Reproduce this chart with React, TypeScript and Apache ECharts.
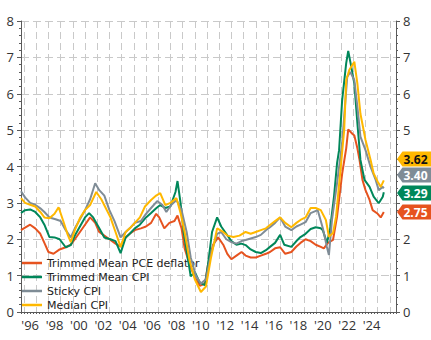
import React, { useEffect, useRef } from 'react';
import * as echarts from 'echarts';

// [decimal year, % y/y]
const trimmedMeanPCE: [number, number][] = [
  [1995.75, 2.25], [1996.1, 2.32], [1996.5, 2.4], [1996.9, 2.3], [1997.3, 2.15], [1997.7, 1.9],
  [1998.0, 1.65], [1998.4, 1.6], [1998.9, 1.72], [1999.4, 1.78], [1999.8, 1.85], [2000.2, 2.0],
  [2000.6, 2.2], [2001.0, 2.4], [2001.4, 2.6], [2001.8, 2.45], [2002.2, 2.2], [2002.6, 2.1],
  [2003.0, 2.0], [2003.5, 1.88], [2003.9, 1.8], [2004.3, 2.05], [2004.7, 2.15], [2005.1, 2.25],
  [2005.6, 2.3], [2006.0, 2.35], [2006.4, 2.45], [2006.8, 2.7], [2007.1, 2.6], [2007.5, 2.3],
  [2007.9, 2.45], [2008.3, 2.5], [2008.6, 2.65], [2008.9, 2.3], [2009.2, 1.75], [2009.6, 1.3],
  [2010.0, 0.95], [2010.4, 0.72], [2010.8, 0.78], [2011.1, 1.3], [2011.5, 1.85], [2011.9, 2.05],
  [2012.3, 1.85], [2012.7, 1.6], [2013.0, 1.45], [2013.4, 1.55], [2013.8, 1.65], [2014.2, 1.55],
  [2014.6, 1.5], [2015.0, 1.5], [2015.4, 1.55], [2015.8, 1.6], [2016.2, 1.65], [2016.6, 1.75],
  [2017.0, 1.78], [2017.4, 1.6], [2017.9, 1.65], [2018.3, 1.8], [2018.7, 1.9], [2019.1, 2.0],
  [2019.5, 1.95], [2019.9, 1.85], [2020.3, 1.79], [2020.6, 1.75], [2020.9, 1.9], [2021.3, 1.98],
  [2021.7, 2.62], [2022.1, 3.8], [2022.4, 4.5], [2022.6, 5.02], [2022.9, 4.9], [2023.1, 4.85],
  [2023.3, 4.5], [2023.5, 4.2], [2023.75, 3.63], [2024.0, 3.35], [2024.3, 3.08], [2024.6, 2.8],
  [2025.0, 2.7], [2025.25, 2.6], [2025.5, 2.75],
];

const trimmedMeanCPI: [number, number][] = [
  [1995.75, 2.72], [1996.1, 2.8], [1996.5, 2.82], [1996.9, 2.75], [1997.3, 2.6], [1997.7, 2.4],
  [1998.1, 2.06], [1998.5, 2.05], [1998.9, 2.0], [1999.4, 1.78], [1999.8, 1.84], [2000.2, 2.1],
  [2000.6, 2.35], [2001.0, 2.6], [2001.3, 2.72], [2001.7, 2.6], [2002.2, 2.3], [2002.6, 2.05],
  [2003.1, 2.0], [2003.5, 1.95], [2003.9, 1.62], [2004.3, 2.05], [2004.7, 2.15], [2005.1, 2.3],
  [2005.5, 2.4], [2006.0, 2.6], [2006.4, 2.72], [2006.8, 2.85], [2007.2, 2.94], [2007.6, 2.86],
  [2008.0, 2.9], [2008.4, 3.3], [2008.6, 3.6], [2008.8, 3.0], [2009.1, 2.2], [2009.4, 1.5],
  [2009.7, 0.98], [2010.0, 1.1], [2010.4, 0.8], [2010.8, 0.74], [2011.1, 1.3], [2011.4, 2.2],
  [2011.8, 2.6], [2012.2, 2.35], [2012.6, 2.15], [2013.0, 1.95], [2013.4, 1.85], [2013.8, 1.88],
  [2014.2, 1.84], [2014.6, 1.72], [2015.0, 1.65], [2015.4, 1.62], [2015.8, 1.7], [2016.2, 1.79],
  [2016.6, 1.9], [2017.0, 2.12], [2017.3, 1.85], [2017.9, 1.79], [2018.3, 1.95], [2018.7, 2.06],
  [2019.1, 2.15], [2019.5, 2.28], [2019.9, 2.33], [2020.3, 2.3], [2020.5, 2.25], [2020.85, 1.9],
  [2021.1, 2.25], [2021.4, 3.17], [2021.7, 4.09], [2021.85, 4.45], [2022.1, 5.82], [2022.4, 6.84],
  [2022.6, 7.18], [2022.87, 6.74], [2023.06, 6.28], [2023.34, 5.19], [2023.61, 4.18], [2023.88, 3.63],
  [2024.3, 3.44], [2024.7, 3.17], [2025.1, 2.99], [2025.4, 3.17], [2025.5, 3.29],
];

const stickyCPI: [number, number][] = [
  [1995.75, 3.32], [1996.1, 3.15], [1996.5, 3.0], [1996.9, 2.95], [1997.3, 2.85], [1997.7, 2.75],
  [1998.1, 2.6], [1998.6, 2.55], [1999.0, 2.5], [1999.4, 2.25], [1999.8, 2.05], [2000.2, 2.3],
  [2000.6, 2.55], [2001.0, 2.8], [2001.4, 3.1], [2001.8, 3.54], [2002.2, 3.35], [2002.6, 3.2],
  [2003.0, 2.8], [2003.4, 2.5], [2003.9, 2.05], [2004.3, 2.2], [2004.7, 2.3], [2005.1, 2.45],
  [2005.6, 2.5], [2006.0, 2.7], [2006.4, 2.86], [2006.9, 3.05], [2007.3, 2.95], [2007.7, 2.75],
  [2008.1, 2.95], [2008.5, 3.08], [2008.9, 2.8], [2009.3, 2.2], [2009.7, 1.5], [2010.1, 1.0],
  [2010.5, 0.78], [2010.9, 0.9], [2011.3, 1.6], [2011.8, 2.15], [2012.2, 2.2], [2012.6, 2.0],
  [2013.0, 1.92], [2013.4, 1.88], [2013.8, 1.95], [2014.2, 1.98], [2014.6, 2.02], [2015.0, 2.06],
  [2015.4, 2.12], [2015.8, 2.25], [2016.2, 2.33], [2016.6, 2.45], [2017.0, 2.6], [2017.4, 2.35],
  [2017.9, 2.25], [2018.3, 2.35], [2018.7, 2.4], [2019.1, 2.47], [2019.5, 2.72], [2020.05, 2.8],
  [2020.46, 2.3], [2020.87, 1.79], [2021.0, 1.57], [2021.28, 2.53], [2021.69, 3.54], [2022.1, 4.64],
  [2022.52, 6.46], [2022.79, 6.6], [2023.06, 6.37], [2023.34, 5.64], [2023.61, 4.82], [2024.02, 4.45],
  [2024.43, 3.99], [2024.84, 3.63], [2025.11, 3.35], [2025.39, 3.44], [2025.5, 3.4],
];

const medianCPI: [number, number][] = [
  [1995.75, 3.13], [1996.1, 3.0], [1996.5, 2.95], [1996.9, 2.9], [1997.3, 2.75], [1997.7, 2.6],
  [1998.1, 2.58], [1998.5, 2.7], [1998.85, 2.88], [1999.2, 2.55], [1999.6, 2.12], [1999.8, 1.92],
  [2000.2, 2.25], [2000.6, 2.58], [2001.0, 2.8], [2001.4, 2.94], [2001.9, 3.3], [2002.3, 3.1],
  [2002.7, 2.88], [2003.1, 2.6], [2003.5, 2.2], [2003.9, 1.79], [2004.3, 2.2], [2004.7, 2.3],
  [2005.1, 2.45], [2005.5, 2.6], [2005.9, 2.9], [2006.4, 3.08], [2006.8, 3.2], [2007.2, 3.27],
  [2007.6, 2.94], [2008.0, 3.0], [2008.5, 3.13], [2008.8, 2.72], [2009.2, 2.2], [2009.6, 1.4],
  [2010.0, 0.9], [2010.5, 0.55], [2010.9, 0.7], [2011.3, 1.5], [2011.8, 2.3], [2012.3, 2.2],
  [2012.7, 2.1], [2013.2, 2.06], [2013.7, 2.1], [2014.2, 2.2], [2014.6, 2.15], [2015.0, 2.2],
  [2015.4, 2.25], [2015.8, 2.3], [2016.2, 2.39], [2016.6, 2.5], [2017.0, 2.6], [2017.4, 2.45],
  [2017.9, 2.33], [2018.3, 2.45], [2018.7, 2.53], [2019.1, 2.6], [2019.5, 2.86], [2019.9, 2.86],
  [2020.3, 2.8], [2020.73, 2.53], [2021.0, 2.07], [2021.3, 2.17], [2021.55, 2.62], [2021.97, 4.09],
  [2022.24, 5.0], [2022.38, 6.37], [2022.65, 6.65], [2023.06, 6.88], [2023.34, 6.28], [2023.61, 5.45],
  [2024.02, 4.73], [2024.43, 4.18], [2024.7, 3.81], [2024.98, 3.58], [2025.25, 3.44], [2025.5, 3.62],
];

const seriesNames = ['Trimmed Mean PCE deflator', 'Trimmed Mean CPI', 'Sticky CPI', 'Median CPI'];
const seriesColors = ['#E6531F', '#00875A', '#7F8C96', '#FFB800'];
const tagTextColors = ['#ffffff', '#ffffff', '#ffffff', '#111111'];
const yTicks = [0, 1, 2, 3, 4, 5, 6, 7, 8];
const rightHiddenTicks = [3, 4]; // covered by the value tags
const lastLabelYear = 2024;

// monthly category axis: Oct 1995 .. Jul 2026
const axisStart = 1995.75;
const monthCount = 370;
const months: string[] = [];
for (let i = 0; i < monthCount; i++) {
  const m = 9 + i;
  const y = 1995 + Math.floor(m / 12);
  const mm = (m % 12) + 1;
  months.push(`${y}-${String(mm).padStart(2, '0')}`);
}
const toIdx = (y: number) => Math.round((y - axisStart) * 12);

export default function App() {
  const ref = useRef<HTMLDivElement>(null);
  useEffect(() => {
    if (!ref.current) return;
    const chart = echarts.init(ref.current, undefined, { renderer: 'svg' });
    const all = [trimmedMeanPCE, trimmedMeanCPI, stickyCPI, medianCPI];
    const font = '"Open Sans", "DejaVu Sans", sans-serif';
    const legendFont = '"DejaVu Sans", sans-serif';
    const gridColor = '#c9c9c9';
    const axisColor = '#5a5a5a';

    // tag vertical centres (dodged layout, pixels)
    const tagCenters = [212, 193, 175, 159];
    const tags: any[] = [];
    all.forEach((s, i) => {
      const c = tagCenters[i];
      const last = s[s.length - 1][1];
      tags.push({
        type: 'polygon',
        z: 100,
        shape: { points: [[397, c], [402.5, c - 7.5], [431, c - 7.5], [431, c + 7.5], [402.5, c + 7.5]] },
        style: { fill: seriesColors[i] },
      });
      tags.push({
        type: 'text',
        z: 101,
        x: 415.5,
        y: c + 0.5,
        style: {
          text: last.toFixed(2),
          fill: tagTextColors[i],
          font: `bold 12px ${font}`,
          align: 'center',
          verticalAlign: 'middle',
        },
      });
    });

    const yAxisBase = (pos: 'left' | 'right', showSplit: boolean) => ({
      type: 'value',
      position: pos,
      min: yTicks[0],
      max: yTicks[yTicks.length - 1],
      interval: 1,
      axisLine: { show: true, lineStyle: { color: axisColor, width: 1 } },
      axisTick: { show: true, length: 4, lineStyle: { color: axisColor } },
      minorTick: { show: true, splitNumber: 5, length: 2, lineStyle: { color: axisColor } },
      axisLabel: {
        color: '#333',
        fontSize: 13,
        fontFamily: font,
        margin: 7,
        formatter: (v: number) => (pos === 'right' && rightHiddenTicks.includes(v) ? '' : String(v)),
      },
      splitLine: { show: showSplit, lineStyle: { color: gridColor, type: [8, 4], width: 1 } },
    });

    chart.setOption({
      animation: false,
      grid: { left: 21, right: 35, top: 21, bottom: 28, containLabel: false },
      legend: {
        left: 22,
        top: 256,
        padding: 0,
        orient: 'vertical',
        icon: 'rect',
        itemWidth: 20,
        itemHeight: 2.5,
        itemGap: 0,
        textStyle: { fontFamily: legendFont, fontSize: 11, color: '#222', lineHeight: 14, height: 14 },
        data: seriesNames,
      },
      xAxis: {
        type: 'category',
        data: months,
        boundaryGap: false,
        axisLine: { show: true, lineStyle: { color: axisColor } },
        axisTick: {
          show: true,
          length: 2,
          interval: (_i: number, v: string) => ['01', '04', '07', '10'].includes(v.slice(5)),
          lineStyle: { color: axisColor },
        },
        axisLabel: {
          interval: (_i: number, v: string) => {
            const yr = parseInt(v.slice(0, 4));
            return v.slice(5) === '07' && yr % 2 === 0 && yr <= lastLabelYear;
          },
          formatter: (v: string) => "'" + v.slice(2, 4),
          color: '#333',
          fontSize: 13,
          fontFamily: font,
          margin: 6,
        },
        splitLine: {
          show: true,
          interval: (_i: number, v: string) => v.slice(5) === '01',
          lineStyle: { color: gridColor, type: [7, 4], width: 1 },
        },
      },
      yAxis: [yAxisBase('left', true), yAxisBase('right', false)],
      series: all.map((s, i) => ({
        name: seriesNames[i],
        type: 'line',
        data: s.map(([y, v]) => [toIdx(y), v]),
        showSymbol: false,
        symbol: 'none',
        color: seriesColors[i],
        lineStyle: { color: seriesColors[i], width: 2 },
        z: 3 + i,
      })),
      graphic: tags,
    });
    return () => chart.dispose();
  }, []);
  return <div ref={ref} style={{ position: 'absolute', left: 0, top: 0, width: 431, height: 340 }} />;
}
